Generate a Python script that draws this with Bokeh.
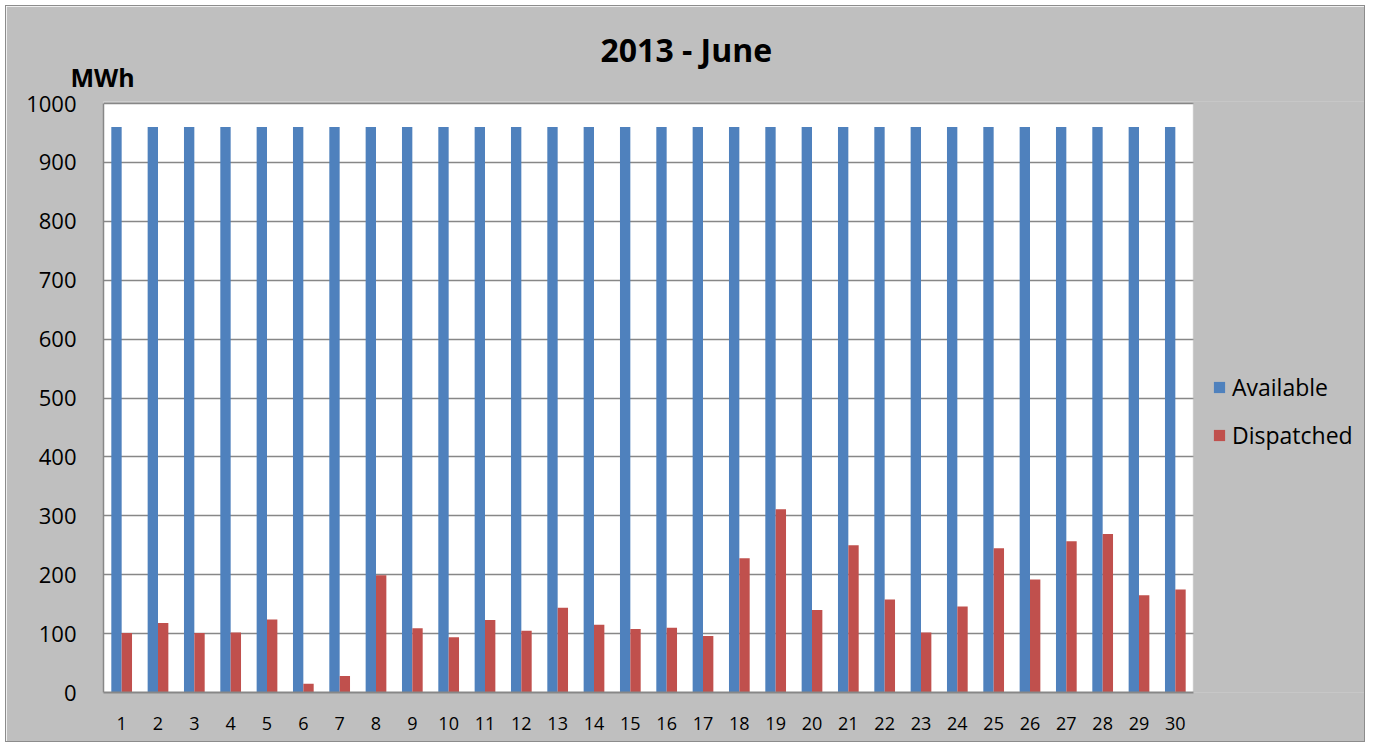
from bokeh.plotting import figure
from bokeh.models import (Range1d, ColumnDataSource, Legend, LegendItem, Title,
                          SingleIntervalTicker, FixedTicker, BoxAnnotation)
from bokeh.transform import dodge
from bokeh.embed import file_html
from bokeh.resources import INLINE

# ---- data ----
days = [1, 2, 3, 4, 5, 6, 7, 8, 9, 10, 11, 12, 13, 14, 15,
        16, 17, 18, 19, 20, 21, 22, 23, 24, 25, 26, 27, 28, 29, 30]
available = [960, 960, 960, 960, 960, 960, 960, 960, 960, 960,
             960, 960, 960, 960, 960, 960, 960, 960, 960, 960,
             960, 960, 960, 960, 960, 960, 960, 960, 960, 960]
dispatched = [101, 118, 101, 102, 124, 15, 28, 199, 109, 94,
              123, 105, 144, 115, 108, 110, 96, 228, 311, 140,
              250, 158, 102, 146, 245, 192, 257, 269, 165, 175]
series_names = ["Available", "Dispatched"]
title_text = "2013 - June"
unit_text = "MWh"

BLUE = "#4F81BD"
RED = "#C0504D"
BG = "#BFBFBF"
GRID = "#878787"
FONT = "Open Sans"

src = ColumnDataSource(dict(day=days, available=available, dispatched=dispatched))

# plot area spans days 0.5..30.5 (1090 px); the frame continues to the right to host the legend
x_lo, x_hi = days[0] - 0.5, days[-1] + 0.5
x_end = x_lo + (x_hi - x_lo) * 1263 / 1090
y_lo, y_hi = 0, 1000
y_end = y_hi * 591 / 589  # 2 px of headroom so the top grid line stays inside the frame

p = figure(x_range=Range1d(x_lo, x_end), y_range=Range1d(y_lo, y_end),
           width=1360, height=737, output_backend="svg", toolbar_location=None,
           min_border_left=97, min_border_right=0, min_border_top=95, min_border_bottom=51,
           background_fill_color=BG, border_fill_color=BG, outline_line_color=None)
p.styles = {"margin-left": "5px", "margin-top": "5px", "border": "1px solid #8C8C8C"}

# white plot area (days 0.5..30.5, 0..1000)
p.add_layout(BoxAnnotation(left=x_lo, right=x_hi, bottom=y_lo, top=y_hi, fill_color="white",
                           fill_alpha=1.0, line_color=None, level="image"))

r1 = p.vbar(x=dodge("day", -0.1425), top="available", width=0.285,
            source=src, fill_color=BLUE, line_color=None)
r2 = p.vbar(x=dodge("day", 0.1425), top="dispatched", width=0.285,
            source=src, fill_color=RED, line_color=None)

# axes
p.yaxis.ticker = SingleIntervalTicker(interval=100)
p.yaxis.bounds = (y_lo, y_hi)
p.yaxis.major_label_text_font = FONT
p.yaxis.major_label_text_font_size = "22px"
p.yaxis.major_label_text_color = "black"
p.yaxis.major_label_standoff = 21
p.yaxis.major_tick_line_color = None
p.yaxis.minor_tick_line_color = None
p.yaxis.axis_line_color = GRID
p.yaxis.axis_line_width = 1.5

p.xaxis.ticker = FixedTicker(ticks=days)
p.xaxis.bounds = (x_lo, x_hi)
p.xaxis.major_label_text_font = FONT
p.xaxis.major_label_text_font_size = "18px"
p.xaxis.major_label_text_color = "black"
p.xaxis.major_label_standoff = 18
p.xaxis.major_tick_line_color = None
p.xaxis.minor_tick_line_color = None
p.xaxis.axis_line_color = GRID
p.xaxis.axis_line_width = 2

p.xgrid.grid_line_color = None
p.ygrid.grid_line_color = GRID
p.ygrid.grid_line_width = 1.5
p.ygrid.bounds = (100, y_hi)

# grey cover right of the plot area (legend region), hides the grid lines there
p.add_layout(BoxAnnotation(left=x_hi, bottom=-20, top=1020, fill_color=BG, fill_alpha=1.0,
                           line_color=BG, line_width=2, level="glyph"))

# unit label (nearest to the frame) and main title
unit = Title(text=unit_text, align="left", offset=-33, text_font=FONT,
             text_font_size="25px", text_font_style="bold", text_color="black", standoff=15)
p.add_layout(unit, "above")
p.title.text = title_text
p.title.align = "left"
p.title.offset = 497
p.title.text_font = FONT
p.title.text_font_size = "32px"
p.title.text_font_style = "bold"
p.title.text_color = "black"
p.title.standoff = -40

legend = Legend(items=[LegendItem(label=series_names[0], renderers=[r1]),
                       LegendItem(label=series_names[1], renderers=[r2])],
                location=(1109, 241),
                label_text_font=FONT, label_text_font_size="23px", label_text_color="black",
                glyph_width=14, glyph_height=14, label_standoff=6, spacing=16,
                padding=10, margin=0,
                background_fill_alpha=0, border_line_color=None)
p.add_layout(legend, "center")

open("out.html", "w").write(file_html(p, INLINE))
